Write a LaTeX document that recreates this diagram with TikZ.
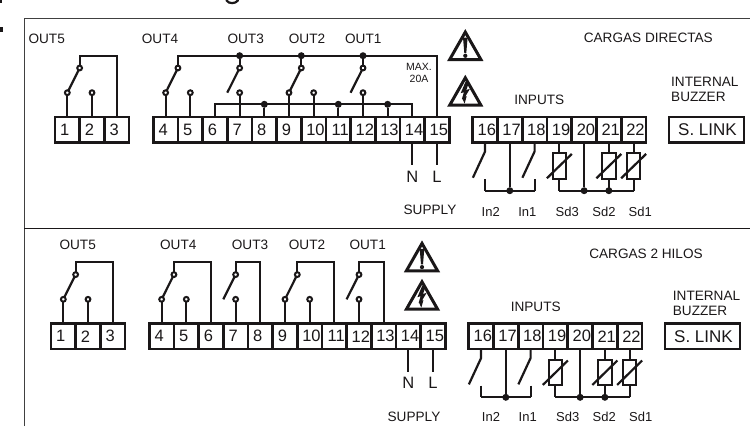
\documentclass[tikz,border=0pt]{standalone}
\usepackage{fontspec}
\setmainfont{Liberation Sans}
\usetikzlibrary{positioning}

\definecolor{inkc}{HTML}{1A1718}

\begin{document}
\begin{tikzpicture}[
    x=1pt, y=-1pt,
    color=inkc,
    wire/.style={line width=2.2pt, line join=miter},
    term/.style={draw, line width=2.7pt, minimum width=24.67pt, minimum height=25.5pt, inner sep=0pt, outer sep=0pt, font=\fontsize{16.5}{16}\selectfont},
    lowterm/.style={term, execute at begin node={\hspace*{-5pt}}},
    hiterm/.style={term, execute at begin node={\hspace*{3.6pt}}},
    contact/.style={circle, draw, line width=2pt, minimum size=4.8pt, inner sep=0pt, outer sep=0pt},
    dot/.style={circle, fill, minimum size=7pt, inner sep=0pt, outer sep=0pt},
    sensor/.style={draw, line width=2pt, minimum width=13.7pt, minimum height=25.3pt, inner sep=0pt, outer sep=0pt},
    lbl/.style={font=\fontsize{13.6}{14}\selectfont, inner sep=0pt},
    small/.style={font=\fontsize{13}{14}\selectfont, inner sep=0pt},
    warnpic/.pic={
        \draw[line width=3pt, miter limit=10] (-15.6,0) -- (0,-27.4) -- (15.6,0) -- cycle;
        \fill (-2.3,-22) -- (2.3,-22) -- (1,-6.5) -- (-1,-6.5) -- cycle;
        \fill (0,-3.7) circle (2.1);
    },
    boltpic/.pic={
        \draw[line width=3pt, miter limit=10] (-15.6,0) -- (0,-27.4) -- (15.6,0) -- cycle;
        \fill (0,-23) -- (-4.6,-12) -- (-1.4,-13) -- (-3.4,-6.2) -- (-2.8,-6.2) -- (-0.7,-1.6) -- (1.4,-9) -- (0,-8.6) -- (4.6,-16.4) -- (1,-15.2) -- (3.8,-23) -- cycle;
    },
]

\useasboundingbox (0,0) rectangle (750,426);

% Frame
\coordinate (framea) at (24,18.5);
\coordinate (frameb) at (750,18.5);
\coordinate (framec) at (24,426);
\coordinate (framed) at (24,228.5);
\coordinate (framee) at (750,228.5);
\draw[line width=1pt, black!75] (framec) -- (framea) -- (frameb);
\draw[line width=1pt] (framed) -- (framee);

% Cut-off title pieces
\fill (0,27) rectangle (3,32);
\fill (0,0) rectangle (2,3);
\draw[line width=2.2pt, line cap=round] (226.5,0.5) .. controls (229,4) and (235,4) .. (238,0.5);

% Both panels share terminals, contacts and inputs
\foreach \p/\dx/\dy in {a/0/0, b/-4/206.6} {
\begin{scope}[shift={(\dx,\dy)}]

    % Terminals
    \foreach \n in {1,2,3}
        \node[lowterm] (\p\n) at ({55+24.67*(\n-0.5)},129.7) {\n};
    \foreach \n in {4,...,9}
        \node[lowterm] (\p\n) at ({153.3+24.67*(\n-3.5)},129.7) {\n};
    \foreach \n in {10,...,15}
        \node[hiterm] (\p\n) at ({153.3+24.67*(\n-3.5)},129.7) {\n};
    \foreach \n in {16,...,22}
        \node[hiterm] (\p\n) at ({472.7+24.76*(\n-15.5)},129.7) {\n};
    \node[term, minimum width=75pt, font=\fontsize{17}{17}\selectfont] (\p link) at (706.5,129.7) {\hspace*{2pt}S. LINK};

    % Relay contacts
    \foreach \n in {1,2,4,5,7,9,10,12} {
        \node[contact, above=21.85pt of \p\n] (\p low\n) {};
        \draw[wire] (\p low\n) -- (\p\n);
    }
    \foreach \n/\s in {1/12.3, 4/12.3, 7/0, 9/12.3, 12/0}
        \node[contact, above=19.9pt of \p low\n, xshift=\s pt] (\p up\n) {};
    \foreach \n in {1,4,9}
        \draw[wire] (\p up\n) -- (\p low\n);
    \foreach \n in {7,12} {
        \coordinate (\p free\n) at ([xshift=-12.4pt]\p low\n.center);
        \draw[wire] (\p up\n) -- (\p free\n);
    }

    % Supply
    \node[font=\fontsize{16.5}{16}\selectfont, inner sep=0pt, below=28pt of \p14] (\p neutral) {N};
    \node[font=\fontsize{16.5}{16}\selectfont, inner sep=0pt, below=28pt of \p15] (\p line) {L};
    \coordinate (\p nend) at ([yshift=5pt]\p neutral.north);
    \coordinate (\p lend) at ([yshift=5pt]\p line.north);
    \draw[wire] (\p14) -- (\p nend);
    \draw[wire] (\p15) -- (\p lend);

    % Inputs
    \coordinate (\p inrail) at (0,190.7);
    \node[dot] (\p j17) at (\p17 |- \p inrail) {};
    \node[dot] (\p j20) at (\p20 |- \p inrail) {};
    \node[sensor, below=11pt of \p19] (\p s19) {};
    \node[sensor, below=11pt of \p21] (\p s21) {};
    \node[sensor, below=11pt of \p22] (\p s22) {};
    \node[dot] (\p j21) at (\p21 |- \p inrail) {};
    \coordinate (\p c19) at (\p19 |- \p inrail);
    \coordinate (\p c22) at (\p22 |- \p inrail);
    \draw[wire] (\p c19) -- (\p c22);
    \draw[wire] (\p17) -- (\p j17);
    \draw[wire] (\p20) -- (\p j20);
    \foreach \n in {19,21,22} {
        \draw[wire] (\p\n) -- (\p s\n);
        \draw[wire] (\p s\n) -- (\p\n |- \p inrail);
        \coordinate (\p sa\n) at ([shift={(-12.5,12.2)}]\p s\n.center);
        \coordinate (\p sb\n) at ([shift={(12.5,-12.2)}]\p s\n.center);
        \draw[wire] (\p sa\n) -- (\p sb\n);
    }
    \foreach \n in {16,18} {
        \coordinate (\p knee\n) at ([yshift=-9pt]\p\n.south);
        \coordinate (\p free\n) at ([shift={(-12.2,26.3)}]\p knee\n);
        \coordinate (\p foot\n) at (\p\n |- 0,179);
        \draw[wire] (\p\n) -- (\p knee\n) -- (\p free\n);
        \draw[wire] (\p foot\n) -- (\p\n |- \p inrail);
    }
    \draw[wire] (\p16 |- \p inrail) -- (\p18 |- \p inrail);

\end{scope}
}

% Upper panel rails
\coordinate (arail) at (0,55.7);
\coordinate (acom) at (0,104.3);
\foreach \n in {7,9,12} {
    \node[dot] (atop\n) at (aup\n |- arail) {};
    \draw[wire] (atop\n) -- (aup\n);
}
\node[dot] (ajc8) at (a8 |- acom) {};
\node[dot] (ajc11) at (a11 |- acom) {};
\node[dot] (ajc13) at (a13 |- acom) {};
\draw[wire] (aup1) -- (aup1 |- arail) -| (a3);
\draw[wire] (aup4) -- (aup4 |- arail) -| (a15);
\draw[wire] (a6) -- (a6 |- acom) -- (a14 |- acom) -- (a14);
\foreach \n in {8,11,13}
    \draw[wire] (ajc\n) -- (a\n);

% Lower panel rails
\coordinate (brail) at (0,262.3);
\draw[wire] (bup1) -- (bup1 |- brail) -| (b3);
\draw[wire] (bup4) -- (bup4 |- brail) -| (b6);
\draw[wire] (bup7) -- (bup7 |- brail) -| (b8);
\draw[wire] (bup9) -- (bup9 |- brail) -| (b11);
\draw[wire] (bup12) -- (bup12 |- brail) -| (b13);

% Warning signs
\pic at (465.3,59.5) {warnpic};
\pic at (465.3,105.2) {boltpic};
\pic at (422,270.8) {warnpic};
\pic at (422,309.2) {boltpic};

% Upper panel labels
\node[lbl] (aout5) at (46.7,39.3) {OUT5};
\node[lbl] (aout4) at (160,39.3) {OUT4};
\node[lbl] (aout3) at (245.7,39.3) {OUT3};
\node[lbl] (aout2) at (307,39.3) {OUT2};
\node[lbl] (aout1) at (363.3,39.3) {OUT1};
\node[font=\fontsize{10.5}{12}\selectfont, inner sep=0pt, align=center] (amax) at (419,73.3) {MAX.\\20A};
\node[lbl] (asupply) at (430,210) {SUPPLY};
\node[lbl] (ainputs) at (539.3,100) {INPUTS};
\node[lbl] (acargas) at (648.3,38.3) {CARGAS DIRECTAS};
\node[lbl, align=left, anchor=west, font=\fontsize{13.6}{15}\selectfont] (abuzzer) at (671,89.8) {INTERNAL\\BUZZER};
\node[small] (ain2) at (490.7,211.7) {In2};
\node[small] (ain1) at (527.3,211.7) {In1};
\node[small] (asd3) at (567.3,211.7) {Sd3};
\node[small] (asd2) at (604,211.7) {Sd2};
\node[small] (asd1) at (640.3,211.7) {Sd1};

% Lower panel labels
\node[lbl] (bout5) at (77.7,245) {OUT5};
\node[lbl] (bout4) at (178.3,245) {OUT4};
\node[lbl] (bout3) at (250,245) {OUT3};
\node[lbl] (bout2) at (307,245) {OUT2};
\node[lbl] (bout1) at (367.7,245) {OUT1};
\node[lbl] (bsupply) at (414,417.3) {SUPPLY};
\node[lbl] (binputs) at (535.7,306.7) {INPUTS};
\node[lbl] (bcargas) at (646,254) {CARGAS 2 HILOS};
\node[lbl, align=left, anchor=west, font=\fontsize{13.6}{15}\selectfont] (bbuzzer) at (672.7,303.2) {INTERNAL\\BUZZER};
\node[small] (bin2) at (491,417.3) {In2};
\node[small] (bin1) at (527.7,417.3) {In1};
\node[small] (bsd3) at (567.7,417.3) {Sd3};
\node[small] (bsd2) at (604.3,417.3) {Sd2};
\node[small] (bsd1) at (640.7,417.3) {Sd1};

\end{tikzpicture}
\end{document}
